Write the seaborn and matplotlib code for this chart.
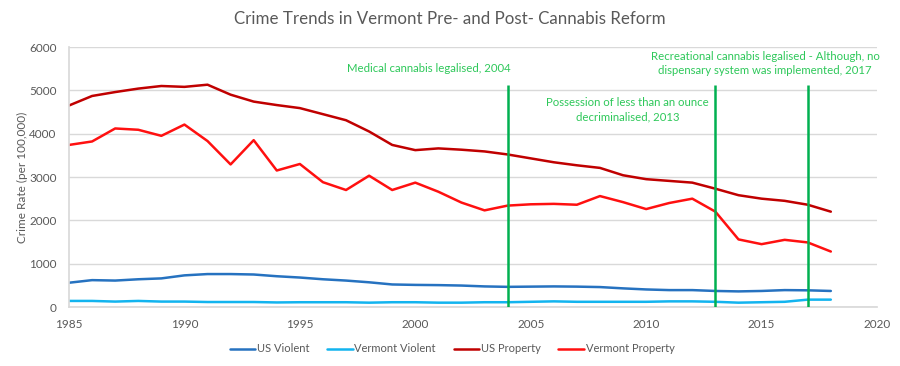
import matplotlib
matplotlib.use("Agg")
import matplotlib.pyplot as plt
import seaborn as sns
import pandas as pd

years = list(range(1985, 2019))
us_violent = [560, 620, 610, 640, 660, 730, 760, 760, 750, 710, 680, 640, 610, 570, 520,
              510, 505, 495, 475, 465, 470, 475, 470, 460, 430, 405, 390, 390, 370, 360,
              370, 390, 385, 370]
vt_violent = [140, 140, 125, 140, 125, 125, 115, 115, 115, 105, 110, 110, 110, 100, 110,
              110, 100, 100, 110, 110, 120, 130, 120, 120, 120, 120, 130, 130, 120, 100,
              110, 120, 170, 170]
us_property = [4650, 4870, 4960, 5040, 5100, 5080, 5130, 4900, 4740, 4660, 4590, 4450,
               4310, 4050, 3740, 3620, 3660, 3630, 3590, 3520, 3430, 3340, 3270, 3210,
               3040, 2950, 2910, 2870, 2730, 2580, 2500, 2450, 2360, 2200]
vt_property = [3740, 3820, 4120, 4090, 3950, 4210, 3830, 3290, 3850, 3150, 3300, 2880,
               2700, 3030, 2700, 2870, 2660, 2410, 2230, 2340, 2370, 2380, 2360, 2560,
               2420, 2260, 2400, 2500, 2200, 1560, 1450, 1550, 1490, 1280]

series_names = ["US Violent", "Vermont Violent", "US Property", "Vermont Property"]
colors = ["#2672c0", "#12b4ef", "#c00000", "#ff1010"]

event_years = [2004, 2013, 2017]
event_labels = ["Medical cannabis legalised, 2004",
                "Possession of less than an ounce\ndecriminalised, 2013",
                "Recreational cannabis legalised - Although, no\ndispensary system was implemented, 2017"]

title = "Crime Trends in Vermont Pre- and Post- Cannabis Reform"
ylabel = "Crime Rate (per 100,000)"

df = pd.DataFrame({"Year": years, "US Violent": us_violent, "Vermont Violent": vt_violent,
                   "US Property": us_property, "Vermont Property": vt_property})
long = df.melt(id_vars="Year", var_name="Series", value_name="Rate")

sns.set_theme(style="white")
plt.rcParams["font.family"] = ["Lato", "DejaVu Sans"]

fig = plt.figure(figsize=(9, 3.66), dpi=100)
ax = fig.add_axes([69/900, 1-307/366, 808/900, 260/366])

sns.lineplot(data=long, x="Year", y="Rate", hue="Series", hue_order=series_names,
             palette=colors, linewidth=1.8, ax=ax, legend=True)

ax.set_xlim(1985, 2020)
ax.set_ylim(0, 6000)
ax.set_xticks(range(1985, 2021, 5))
ax.set_yticks(range(0, 6001, 1000))
ax.yaxis.grid(True, color="#d9d9d9", linewidth=1)
ax.xaxis.grid(False)
for s in ["top", "right"]:
    ax.spines[s].set_visible(False)
ax.spines["left"].set_color("#d9d9d9")
ax.spines["bottom"].set_color("#d9d9d9")
ax.tick_params(axis="y", colors="#595959", labelsize=8.5, length=0, pad=9)
ax.tick_params(axis="x", colors="#595959", labelsize=8.5, length=0, pad=9)
ax.set_xlabel("")
ax.set_ylabel(ylabel, color="#595959", fontsize=8.5, labelpad=1)

top_val = (307 - 85) / (260 / 6000)
for yr in event_years:
    ax.vlines(yr, 0, top_val, color="#00b050", linewidth=1.8, zorder=3)

green_txt = "#2ec85a"
ax.text(2000.6, 5515, event_labels[0], color=green_txt, fontsize=8.2, ha="center", va="center")
ax.text(2009.2, 4546, event_labels[1], color=green_txt, fontsize=8.2, ha="center", va="center",
        linespacing=1.4)
ax.text(2015.15, 5620, event_labels[2], color=green_txt, fontsize=8.2, ha="center", va="center",
        linespacing=1.4)

fig.text(0.5, 1-19/366, title, ha="center", va="center", color="#595959", fontsize=12.2)

h, l = ax.get_legend_handles_labels()
for hh in h:
    hh.set_linewidth(1.8)
ax.legend(h, l, loc="center", bbox_to_anchor=(452/900, 1-349/366), bbox_transform=fig.transFigure,
          ncol=4, frameon=False, fontsize=8, handlelength=2.3, handletextpad=0.15,
          columnspacing=1.6, labelcolor="#595959")

fig.savefig("out.png", dpi=100)
